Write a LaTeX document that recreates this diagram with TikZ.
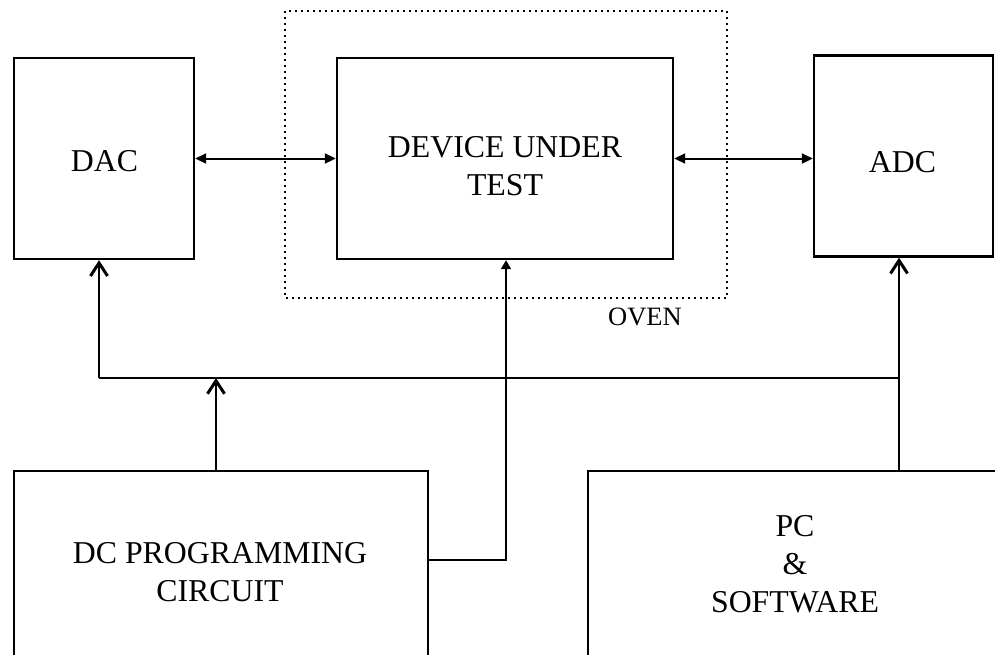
\documentclass[tikz,border=0pt]{standalone}
\usepackage{fontspec}
\setmainfont{Liberation Serif}
\usetikzlibrary{arrows.meta,calc}

\tikzset{
  blockbox/.style={draw=black, line width=2.4pt, rectangle, inner sep=0pt},
  lbl/.style={font=\fontsize{31.8}{38}\selectfont, align=center, inner sep=0pt},
  ovenlbl/.style={font=\fontsize{26.5}{30}\selectfont, inner sep=0pt},
  ovenbox/.style={draw=black, line width=1.6pt, dash pattern=on 1.6pt off 4.4pt},
  duplex/.style={line width=2pt, {Triangle[length=11pt,width=10pt]}-{Triangle[length=11pt,width=10pt]}},
  busline/.style={line width=2.2pt},
  feed/.style={line width=2.6pt, -{Straight Barb[length=13pt,width=17pt,line width=3pt]}},
  biasline/.style={line width=1.8pt, -{Triangle[length=9pt,width=10pt]}}
}

\begin{document}
\begin{tikzpicture}[x=1pt,y=-1pt]
  \path[use as bounding box, clip] (0,0) rectangle (995,654);

  % oven enclosure
  \draw[ovenbox] (285,11) rectangle (727,298);
  \node[ovenlbl] (ovenname) at (645,317) {OVEN};

  % blocks
  \node[blockbox, minimum width=180pt, minimum height=201pt] (dac) at (104,158.5) {};
  \node[blockbox, minimum width=336pt, minimum height=201pt] (dut) at (505,158.5) {};
  \node[blockbox, minimum width=179pt, minimum height=201pt] (adc) at (903.5,156) {};
  \node[blockbox, minimum width=414pt, minimum height=203pt] (dc) at (221,572.5) {};
  \node[blockbox, minimum width=414pt, minimum height=188pt] (pc) at (795,565) {};

  % block titles
  \node[lbl] (dactext) at (104.5,160.7) {DAC};
  \node[lbl] (duttext) at (505,166.5) {DEVICE UNDER\\TEST};
  \node[lbl] (adctext) at (902.5,161.7) {ADC};
  \node[lbl] (dctext) at (220,572.5) {DC PROGRAMMING\\CIRCUIT};
  \node[lbl] (pctext) at (795,564.5) {PC\\\&\\SOFTWARE};

  % signal path through the device under test
  \draw[duplex] (dac.east) -- (dut.west);
  \draw[duplex] (dut.east) -- (adc.west |- dut.east);

  % control bus from the PC
  \coordinate (busL) at (99,378);
  \coordinate (busR) at (899,378);
  \coordinate (tap) at (216,378);
  \draw[busline] (busR) -- (busL);
  \draw[feed] (busL) -- (dac.south -| busL);
  \draw[feed] (pc.north -| busR) -- (adc.south -| busR);
  \draw[feed] (dc.north -| tap) -- (tap);

  % DC bias into the device under test
  \coordinate (bend) at (506,560);
  \draw[biasline] (dc.east |- bend) -- (bend) -- (dut.south -| bend);
\end{tikzpicture}
\end{document}
